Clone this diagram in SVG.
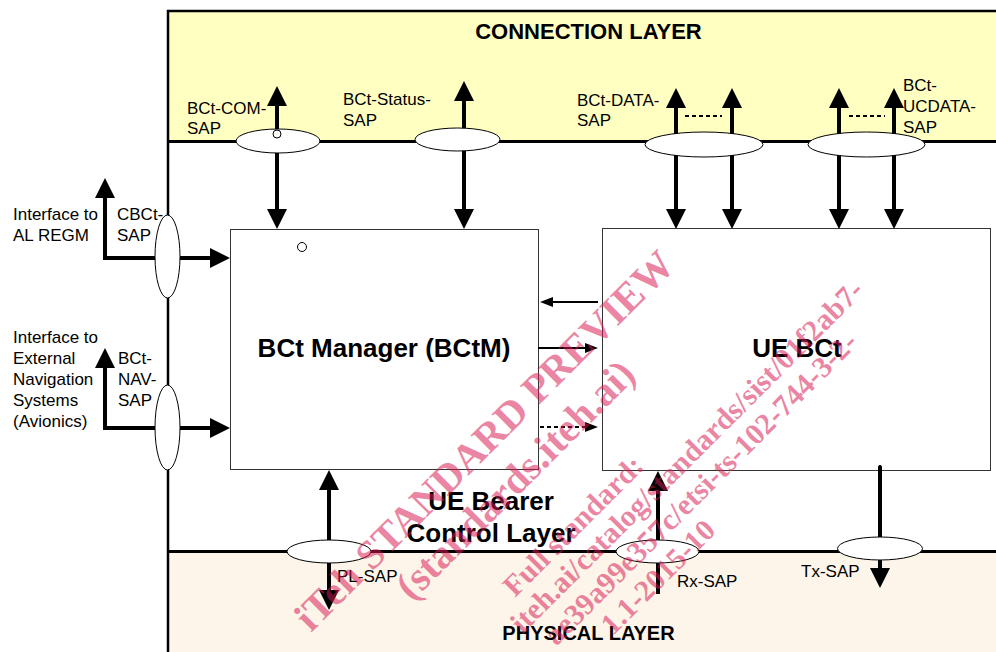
<svg xmlns="http://www.w3.org/2000/svg" width="996" height="652" viewBox="0 0 996 652">
<style>
.thick{stroke:#000;stroke-width:4;fill:none}
.thin{stroke:#000;stroke-width:2;fill:none}
.dash{stroke-dasharray:4 3}
.sap{fill:#fff;stroke:#000;stroke-width:1}
.box{fill:#fff;stroke:#333;stroke-width:1}
.frame{stroke:#000;stroke-width:2.5;fill:none}
.layerline{stroke:#000;stroke-width:3}
.lbl{font-family:"Liberation Sans",Arial,sans-serif;font-size:17px;fill:#000}
.big{font-family:"Liberation Sans",Arial,sans-serif;font-size:26px;font-weight:bold;fill:#000}
.layer{font-family:"Liberation Sans",Arial,sans-serif;font-weight:bold;fill:#000}
.wm{font-family:"Liberation Serif","Times New Roman",serif;font-weight:bold;fill:#d81b55;fill-opacity:0.55}
</style>
<defs>
<marker id="ah" viewBox="0 0 20 20" refX="1" refY="10" markerWidth="20" markerHeight="20" markerUnits="userSpaceOnUse" orient="auto-start-reverse"><path d="M0,0L20,10L0,20z" fill="#000"/></marker>
<marker id="at" viewBox="0 0 13 10" refX="1" refY="5" markerWidth="13" markerHeight="10" markerUnits="userSpaceOnUse" orient="auto"><path d="M0,0L13,5L0,10z" fill="#000"/></marker>
</defs>
<rect width="996" height="652" fill="#fff"/>
<g id="layers">
<rect x="168" y="11" width="828" height="130.5" fill="#ffffc2"/>
<rect x="168" y="551.5" width="828" height="100.5" fill="#fdf5ea"/>
<path class="frame" d="M168,652 L168,11 L996,11"/>
<line class="layerline" x1="168" y1="141.5" x2="996" y2="141.5"/>
<line class="layerline" x1="168" y1="551.5" x2="996" y2="551.5"/>
<text class="layer" x="588.5" y="39" font-size="22" text-anchor="middle">CONNECTION LAYER</text>
<text class="big" x="491" y="510" text-anchor="middle">UE Bearer</text>
<text class="big" x="491" y="542" text-anchor="middle">Control Layer</text>
<text class="layer" x="588.5" y="640" font-size="20" text-anchor="middle">PHYSICAL LAYER</text>
</g>
<g id="bctm">
<rect class="box" x="230.5" y="229.5" width="308" height="240"/>
<circle class="sap" cx="302" cy="247" r="4.5"/>
<text class="big" x="384" y="357" text-anchor="middle">BCt Manager (BCtM)</text>
</g>
<g id="uebct">
<rect class="box" x="602.5" y="228.5" width="388" height="242"/>
<text class="big" x="797" y="357" text-anchor="middle">UE BCt</text>
</g>
<g id="connectors">
<path class="thick" d="M277,105 L277,210" marker-start="url(#ah)" marker-end="url(#ah)"/>
<path class="thick" d="M464,100 L464,210" marker-start="url(#ah)" marker-end="url(#ah)"/>
<path class="thick" d="M676,107 L676,210" marker-start="url(#ah)" marker-end="url(#ah)"/>
<path class="thick" d="M732,107 L732,210" marker-start="url(#ah)" marker-end="url(#ah)"/>
<path class="thick" d="M839,107 L839,210" marker-start="url(#ah)" marker-end="url(#ah)"/>
<path class="thick" d="M894,107 L894,210" marker-start="url(#ah)" marker-end="url(#ah)"/>
<path class="thin dash" d="M685,116 L722,116"/>
<path class="thin dash" d="M849,116 L885,116"/>
<path class="thick" d="M105,197 L105,258 L211,258" marker-start="url(#ah)" marker-end="url(#ah)"/>
<path class="thick" d="M105,367 L105,428 L211,428" marker-start="url(#ah)" marker-end="url(#ah)"/>
<path class="thin" d="M598,302 L552,302" marker-end="url(#at)"/>
<path class="thin" d="M538,348 L586,348" marker-end="url(#at)"/>
<path class="thin dash" d="M540,427 L586,427" marker-end="url(#at)"/>
<path class="thick" d="M329,489 L329,591" marker-start="url(#ah)" marker-end="url(#ah)"/>
<path class="thick" d="M658,594 L658,490" marker-end="url(#ah)"/>
<path class="thick" d="M880,467 L880,569" stroke-linecap="round" marker-end="url(#ah)"/>
</g>
<g id="sap-com">
<ellipse class="sap" cx="278" cy="141" rx="42" ry="12"/>
<circle class="sap" cx="277" cy="134" r="4"/>
<text class="lbl" x="187" y="114">BCt-COM-</text>
<text class="lbl" x="187" y="134">SAP</text>
</g>
<g id="sap-status">
<ellipse class="sap" cx="457.5" cy="139.5" rx="42.5" ry="11.5"/>
<text class="lbl" x="343" y="105">BCt-Status-</text>
<text class="lbl" x="343" y="126">SAP</text>
</g>
<g id="sap-data">
<ellipse class="sap" cx="704" cy="144.5" rx="59" ry="12.5"/>
<text class="lbl" x="577" y="106">BCt-DATA-</text>
<text class="lbl" x="577" y="126">SAP</text>
</g>
<g id="sap-ucdata">
<ellipse class="sap" cx="866.5" cy="144.5" rx="58.5" ry="12.5"/>
<text class="lbl" x="903" y="91">BCt-</text>
<text class="lbl" x="903" y="112">UCDATA-</text>
<text class="lbl" x="903" y="133">SAP</text>
</g>
<g id="sap-cbct">
<ellipse class="sap" cx="167.5" cy="256.5" rx="12.5" ry="41.5"/>
<text class="lbl" x="117" y="220">CBCt-</text>
<text class="lbl" x="117" y="241">SAP</text>
<text class="lbl" x="13" y="220">Interface to</text>
<text class="lbl" x="13" y="241">AL REGM</text>
</g>
<g id="sap-nav">
<ellipse class="sap" cx="167.5" cy="427.5" rx="12.5" ry="42.5"/>
<text class="lbl" x="118" y="364">BCt-</text>
<text class="lbl" x="118" y="385">NAV-</text>
<text class="lbl" x="118" y="406">SAP</text>
<text class="lbl" x="13" y="343">Interface to</text>
<text class="lbl" x="13" y="364">External</text>
<text class="lbl" x="13" y="385">Navigation</text>
<text class="lbl" x="13" y="406">Systems</text>
<text class="lbl" x="13" y="427">(Avionics)</text>
</g>
<g id="sap-pl">
<ellipse class="sap" cx="329" cy="551.5" rx="42" ry="11.5"/>
<text class="lbl" x="337" y="582">PL-SAP</text>
</g>
<g id="sap-rx">
<ellipse class="sap" cx="657.5" cy="551.5" rx="41.5" ry="11.5"/>
<text class="lbl" x="677" y="587">Rx-SAP</text>
</g>
<g id="sap-tx">
<ellipse class="sap" cx="880" cy="548.5" rx="42.5" ry="11.5"/>
<text class="lbl" x="801" y="577">Tx-SAP</text>
</g>
<g id="watermark">
<text class="wm" font-size="41" x="311" y="633" transform="rotate(-45 311 633)">iTeh STANDARD PREVIEW</text>
<text class="wm" font-size="41" x="412" y="602" transform="rotate(-45 412 602)">(standards.iteh.ai)</text>
<text class="wm" font-size="30" x="515" y="598" transform="rotate(-45 515 598)">Full standard:</text>
<text class="wm" font-size="30" x="865" y="292" text-anchor="end" transform="rotate(-45 865 292)">iteh.ai/catalog/standards/sist/01f2ab7-</text>
<text class="wm" font-size="30" x="859" y="344" text-anchor="end" transform="rotate(-45 859 344)">ae39a99e357c/etsi-ts-102-744-3-2-</text>
<text class="wm" font-size="30" x="717" y="532" text-anchor="end" transform="rotate(-45 717 532)">1.1-2015-10</text>
</g>
</svg>
